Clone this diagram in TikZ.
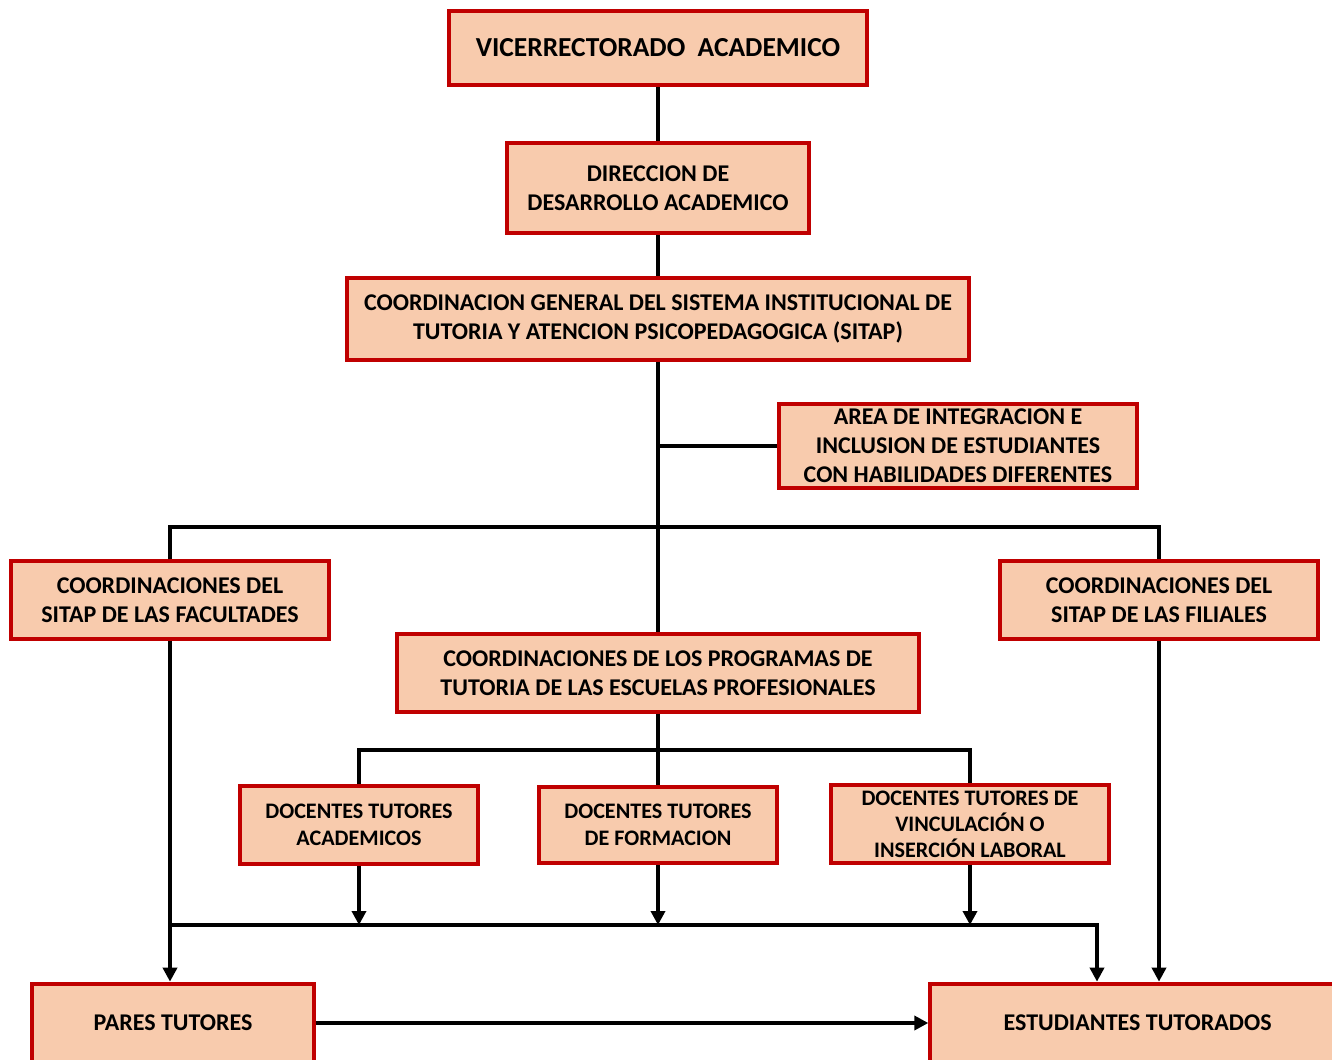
\documentclass[tikz,border=0pt]{standalone}
\usepackage{fontspec}
\setmainfont{Carlito}
\usetikzlibrary{arrows.meta}

\definecolor{boxfill}{HTML}{F8CBAD}
\definecolor{boxline}{HTML}{C00000}

\begin{document}
\begin{tikzpicture}[x = 0.75pt, y = -0.75pt,
    unit/.style = {draw = boxline, fill = boxfill, line width = 3pt, align = center,
      inner sep = 0pt, font = \bfseries\fontsize{18}{21.75}\selectfont},
    small/.style = {font = \bfseries\fontsize{16.6}{20}\selectfont},
    conn/.style = {line width = 3pt},
    arr/.style = {line width = 3pt, -{Triangle[length = 10.5pt, width = 10.5pt]}}]
  \useasboundingbox (0, 0) rectangle (1332, 1060);

  \node[unit, minimum width = 314pt, minimum height = 56pt,
    font = \bfseries\fontsize{20.6}{24}\selectfont] (vice) at (658, 48) {VICERRECTORADO\ \ ACADEMICO};
  \node[unit, minimum width = 226pt, minimum height = 68pt] (dir) at (658, 188) {DIRECCION DE\\DESARROLLO ACADEMICO};
  \node[unit, minimum width = 467pt, minimum height = 61pt] (sitap) at (658, 319) {COORDINACION GENERAL DEL SISTEMA INSTITUCIONAL DE\\TUTORIA Y ATENCION PSICOPEDAGOGICA (SITAP)};
  \node[unit, minimum width = 268pt, minimum height = 63pt] (area) at (958, 446) {AREA DE INTEGRACION E\\INCLUSION DE ESTUDIANTES\\CON HABILIDADES DIFERENTES};

  \node[unit, minimum width = 238pt, minimum height = 58pt] (fac) at (170, 600) {COORDINACIONES DEL\\SITAP DE LAS FACULTADES};
  \node[unit, minimum width = 238pt, minimum height = 58pt] (fil) at (1159, 600) {COORDINACIONES DEL\\SITAP DE LAS FILIALES};
  \node[unit, minimum width = 392pt, minimum height = 58pt] (progr) at (658, 673) {COORDINACIONES DE LOS PROGRAMAS DE\\TUTORIA DE LAS ESCUELAS PROFESIONALES};

  \node[unit, small, minimum width = 179pt, minimum height = 58pt] (acad) at (359, 825) {DOCENTES TUTORES\\ACADEMICOS};
  \node[unit, small, minimum width = 178pt, minimum height = 57pt] (form) at (658, 825) {DOCENTES TUTORES\\DE FORMACION};
  \node[unit, small, minimum width = 208pt, minimum height = 58pt,
    font = \bfseries\fontsize{16.6}{19.5}\selectfont] (vinc) at (970, 824) {DOCENTES TUTORES DE\\VINCULACIÓN O\\INSERCIÓN LABORAL};

  \node[unit, minimum width = 211pt, minimum height = 59pt] (pares) at (173, 1023) {PARES TUTORES};
  \node[unit, minimum width = 307pt, minimum height = 59pt] (est) at (1135, 1023) {\hspace{4pt}ESTUDIANTES TUTORADOS};

  \coordinate (bus1) at (658, 527);
  \coordinate (bus2) at (658, 750);
  \coordinate (bus3) at (658, 925);

  \draw[conn] (vice) -- (dir);
  \draw[conn] (dir) -- (sitap);
  \draw[conn] (sitap) -- (progr);
  \draw[conn] (sitap.south |- area.west) -- (area.west);
  \draw[conn] (fac.north) |- (bus1) -| (fil.north);

  \draw[conn] (progr) -- (form);
  \draw[conn] (acad.north) |- (bus2) -| (vinc.north);

  \draw[arr] (acad.south) -- (acad.south |- bus3);
  \draw[arr] (form.south) -- (bus3);
  \draw[arr] (vinc.south) -- (vinc.south |- bus3);

  \draw[arr] (fac.south) -- (fac.south |- pares.north);
  \draw[arr] (fac.south |- bus3) -| ([xshift = -28.5pt]est.north);
  \draw[arr] (fil.south) -- (fil.south |- est.north);
  \draw[arr] (pares) -- (est);
\end{tikzpicture}
\end{document}
